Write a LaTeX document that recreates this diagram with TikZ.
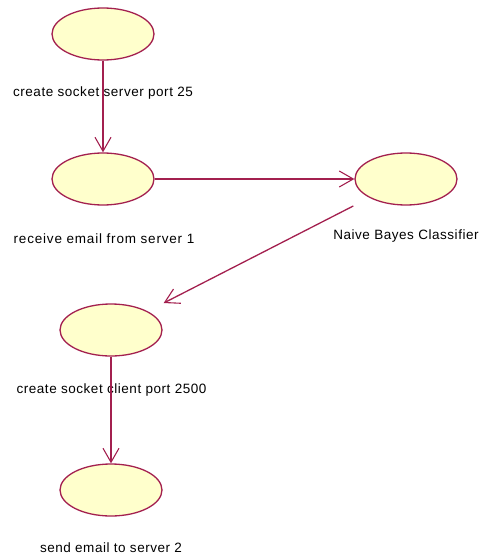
\documentclass[tikz,border=0pt]{standalone}
\usepackage{fontspec}
\setmainfont{Liberation Sans}[LetterSpace=4]
\usetikzlibrary{arrows.meta, shapes.geometric}
\definecolor{usecaseline}{HTML}{A3204F}
\definecolor{usecasefill}{HTML}{FFFFCC}
\tikzset{
  usecase/.style={ellipse, draw=usecaseline, fill=usecasefill, line width=1.3pt,
    minimum width=102pt, minimum height=52pt, inner sep=0pt},
  caption/.style={font=\fontsize{13.5}{15}\selectfont, inner sep=0pt, anchor=base},
  flow/.style={draw=usecaseline, line width=1.3pt,
    -{Straight Barb[length=14pt, width=16pt, line width=1.1pt]}}
}
\begin{document}
\begin{tikzpicture}[x=1pt, y=-1pt]
  \useasboundingbox (0,0) rectangle (484,554);

  % use cases
  \node[usecase] (server) at (103,34) {};
  \node[usecase] (receive) at (103,179) {};
  \node[usecase] (bayes) at (406,179) {};
  \node[usecase] (client) at (111,330) {};
  \node[usecase] (send) at (111,490) {};

  % captions below each use case
  \node[caption] (lserver) at (103,96) {create socket server port 25};
  \node[caption, font=\fontsize{13.5}{15}\addfontfeature{LetterSpace=6}] (lreceive) at (104,243) {receive email from server 1};
  \node[caption] (lbayes) at (406,239.5) {Naive Bayes Classifier};
  \node[caption] (lclient) at (111.5,393) {create socket client port 2500};
  \node[caption] (lsend) at (111,552) {send email to server 2};

  % message flow
  \draw[flow] (server) -- (receive);
  \draw[flow] (receive) -- (bayes);
  \draw[flow, shorten <=18pt, shorten >=18pt] (bayes) -- (client);
  \draw[flow] (client) -- (send);
\end{tikzpicture}
\end{document}
